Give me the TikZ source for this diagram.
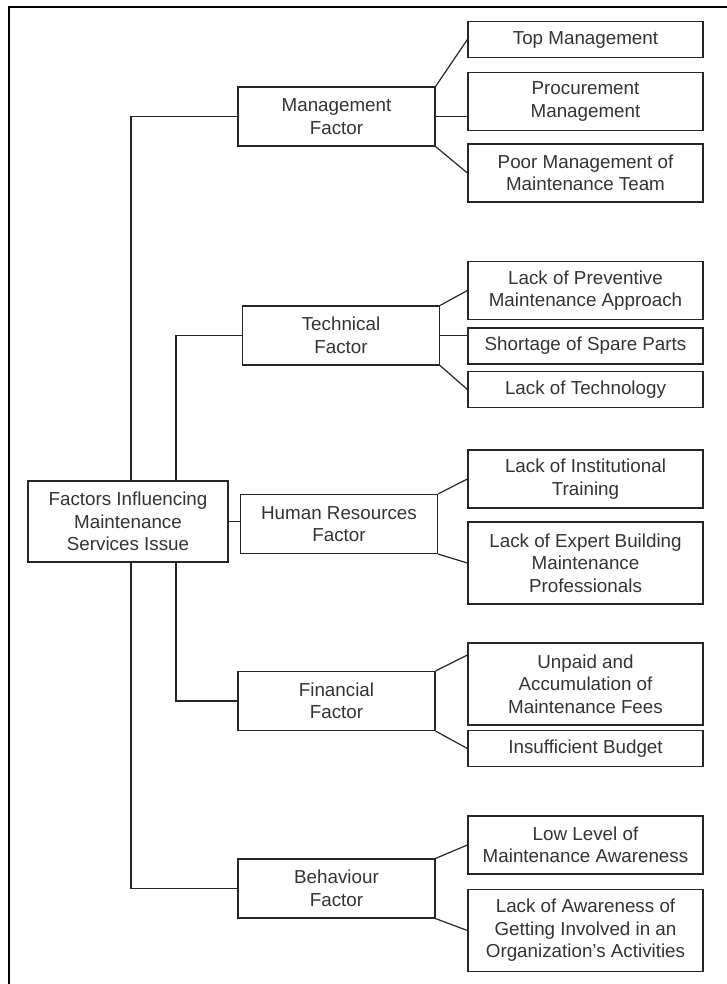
\documentclass[tikz,border=0pt]{standalone}
\usepackage{fontspec}
\setmainfont{Liberation Sans}
\usepackage{xcolor}

\tikzset{
  factor/.style={draw, minimum width=98.5pt, minimum height=29.5pt, align=center, inner sep=1pt},
  leaf/.style={draw, minimum width=117.5pt, minimum height=#1, align=center, inner sep=1pt},
  leaf/.default=29pt
}

\begin{document}
\begin{tikzpicture}[x=0.5pt, y=-0.5pt, semithick, draw=black!85, text=black!80,
    font=\fontsize{9.4}{11.25}\selectfont]
      \useasboundingbox (0,0) rectangle (727,984);
      \draw[line width=1.2pt, black] (9,984) -- (9,7) -- (727,7);

      \node[draw, minimum width=100pt, minimum height=40.5pt, align=center, inner sep=1pt] (root) at (128,521.5)
            {Factors Influencing\\Maintenance\\Services Issue};

      \node[factor] (mf) at (336.5,116.5) {Management\\Factor};
      \node[factor] (tf) at (341,335.5) {Technical\\Factor};
      \node[factor] (hr) at (339,524) {Human Resources\\Factor};
      \node[factor] (ff) at (336.5,701) {Financial\\Factor};
      \node[factor] (bf) at (336.5,888.5) {Behaviour\\Factor};

      \node[leaf=18pt] (tm) at (585.5,39.5) {Top Management};
      \node[leaf] (pm) at (585.5,101.5) {Procurement\\Management};
      \node[leaf] (pmt) at (585.5,173) {Poor Management of\\Maintenance Team};

      \node[leaf] (lpm) at (585.5,290.5) {Lack of Preventive\\Maintenance Approach};
      \node[leaf=18pt] (ssp) at (585.5,346) {Shortage of Spare Parts};
      \node[leaf=18pt] (lt) at (585.5,389.5) {Lack of Technology};

      \node[leaf] (lit) at (585.5,479) {Lack of Institutional\\Training};
      \node[leaf=41pt] (lebm) at (585.5,563) {Lack of Expert Building\\Maintenance\\Professionals};

      \node[leaf=41pt] (uam) at (585.5,684) {Unpaid and\\Accumulation of\\Maintenance Fees};
      \node[leaf=18pt] (ib) at (585.5,748.5) {Insufficient Budget};

      \node[leaf] (llma) at (585.5,845) {Low Level of\\Maintenance Awareness};
      \node[leaf=41pt] (lagi) at (585.5,930.5) {Lack of Awareness of\\Getting Involved in an\\Organization's Activities};

      % trunk
      \draw ([xshift=1.5pt]root.north) |- (mf.west);
      \draw ([xshift=24pt]root.north) |- (tf.west);
      \draw (root.east) -- (root.east -| hr.west);
      \draw ([xshift=24pt]root.south) |- (ff.west);
      \draw ([xshift=1.5pt]root.south) |- (bf.west);

      % branches
      \path (mf.north east) edge (tm.west)
            (mf.east) edge (mf.east -| pm.west)
            (mf.south east) edge (pmt.west)
            (tf.north east) edge (lpm.west)
            (tf.east) edge (tf.east -| ssp.west)
            (tf.south east) edge (lt.west)
            (hr.north east) edge (lit.west)
            (hr.south east) edge (lebm.west)
            (ff.north east) edge ([yshift=14.5pt]uam.west)
            (ff.south east) edge (ib.west)
            (bf.north east) edge (llma.west)
            (bf.south east) edge (lagi.west)
            ;
\end{tikzpicture}
\end{document}
